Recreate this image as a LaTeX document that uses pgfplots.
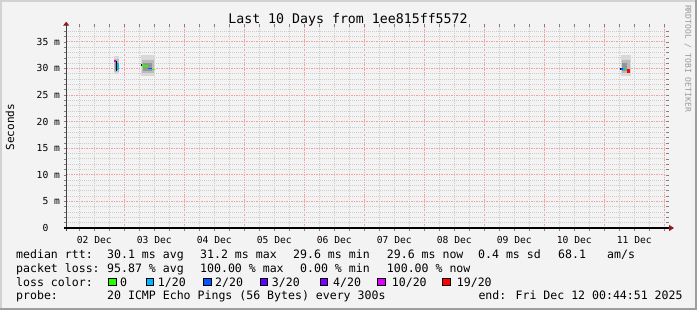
\documentclass[border=0pt]{standalone}
\usepackage{fontspec}
\setmainfont{DejaVu Sans Mono}
\usepackage{pgfplots}
\pgfplotsset{compat=1.18}
\usetikzlibrary{arrows.meta}
\definecolor{bg}{HTML}{F3F3F3}
\definecolor{edgelight}{HTML}{D2D2D2}
\definecolor{edgedark}{HTML}{9E9E9E}
\definecolor{mgrid}{HTML}{F2A2A2}
\definecolor{mingrid}{HTML}{CCCCCC}
\definecolor{arrowred}{HTML}{8E1B1B}
\definecolor{smokeA}{HTML}{D8D8D8}
\definecolor{smokeB}{HTML}{BBBBBB}
\definecolor{smokeC}{HTML}{959595}
\definecolor{lz}{HTML}{26FF00}
\definecolor{la}{HTML}{00B8FF}
\definecolor{lb}{HTML}{0059FF}
\definecolor{lc}{HTML}{5E00FF}
\definecolor{ld}{HTML}{7E00FF}
\definecolor{le}{HTML}{DD00FF}
\definecolor{lf}{HTML}{FF0000}
\newcommand\ft{\fontsize{11.6}{13}\selectfont}
\newcommand\tf{\fontsize{9.7}{11}\selectfont}
\begin{document}
\begin{tikzpicture}[x=1bp,y=1bp]
\useasboundingbox (0,0) rectangle (697,310);
\fill[bg] (0,0) rectangle (697,310);
\draw[edgelight, line width=2bp] (1,0) -- (1,309) -- (697,309);
\draw[edgedark, line width=2.5bp] (0,1.25) -- (695.75,1.25) -- (695.75,310);
\begin{axis}[
  at={(66.2bp,82bp)}, anchor=south west,
  scale only axis, width=600bp, height=201bp,
  xmin=0.75, xmax=240.75, ymin=0, ymax=37.8,
  clip=false,
  axis line style={draw=none},
  xtick={24,48,...,240},
  xticklabels={02 Dec,03 Dec,04 Dec,05 Dec,06 Dec,07 Dec,08 Dec,09 Dec,10 Dec,11 Dec},
  minor xtick={6,12,18,30,36,42,54,60,66,78,84,90,102,108,114,126,132,138,150,156,162,174,180,186,198,204,210,222,228,234},
  ytick={0,5,...,35},
  yticklabels={0\hphantom{\ m},5 m,10 m,15 m,20 m,25 m,30 m,35 m},
  minor ytick={1,2,3,4,6,7,8,9,11,12,13,14,16,17,18,19,21,22,23,24,26,27,28,29,31,32,33,34,36,37},
  xmajorgrids=true, ymajorgrids=true, xminorgrids=true, yminorgrids=true,
  major grid style={mgrid, line width=1.1bp, dash pattern=on 1.3bp off 1.2bp},
  minor grid style={mingrid, line width=0.8bp, dash pattern=on 1bp off 1bp},
  tick align=outside,
  major tick length=2.5bp, minor tick length=2.5bp,
  tick style={gray, line width=0.6bp},
  x tick label style={font=\tf, anchor=center, inner sep=0pt, yshift=-9.3bp, xshift=-30bp},
  y tick label style={font=\tf, anchor=east, inner sep=0pt, xshift=-3.5bp},
]
% smoke cluster 1
\addplot[fill=smokeA, draw=none] coordinates {(19.9,28.9)(22.0,28.9)(22.0,32.4)(19.9,32.4)} -- cycle;
\addplot[fill=smokeB, draw=none] coordinates {(19.9,29.4)(21.9,29.4)(21.9,31.8)(19.9,31.8)} -- cycle;
\addplot[fill=smokeC, draw=none] coordinates {(20.2,29.8)(21.0,29.8)(21.0,31.4)(20.2,31.4)} -- cycle;
% smoke cluster 2
\addplot[fill=smokeA, draw=none] coordinates {(30.6,28.5)(36.4,28.5)(36.4,32.5)(30.6,32.5)} -- cycle;
\addplot[fill=smokeB, draw=none] coordinates {(30.9,29.2)(36.0,29.2)(36.0,31.6)(30.9,31.6)} -- cycle;
\addplot[fill=smokeC, draw=none] coordinates {(31.5,29.6)(35.0,29.6)(35.0,31.0)(31.5,31.0)} -- cycle;
% smoke cluster 3
\addplot[fill=smokeA, draw=none] coordinates {(222.6,28.5)(226.8,28.5)(226.8,32.5)(222.6,32.5)} -- cycle;
\addplot[fill=smokeB, draw=none] coordinates {(222.9,29.2)(226.3,29.2)(226.3,31.6)(222.9,31.6)} -- cycle;
\addplot[fill=smokeC, draw=none] coordinates {(223.0,29.6)(225.0,29.6)(225.0,31.0)(223.0,31.0)} -- cycle;
% medians cluster 1
\addplot[le, line width=1.6bp] coordinates {(20.0,31.4)(20.7,31.4)};
\addplot[black, line width=1bp] coordinates {(20.7,31.4)(20.7,29.6)};
\addplot[la, line width=2.2bp] coordinates {(21.4,31.0)(21.4,29.8)};
% medians cluster 2
\addplot[black, line width=1.6bp] coordinates {(30.7,30.6)(31.1,30.6)};
\addplot[lz, line width=1.8bp] coordinates {(31.1,30.6)(32.2,30.4)(33.5,30.5)};
\addplot[lb, line width=1.8bp] coordinates {(33.5,30.0)(35.0,30.0)};
\addplot[lz, line width=1.8bp] coordinates {(35.0,29.8)(36.2,29.8)};
% medians cluster 3
\addplot[black, line width=1.6bp] coordinates {(222.3,29.9)(222.7,29.9)};
\addplot[lb, line width=1.8bp] coordinates {(222.7,29.9)(223.5,29.9)};
\addplot[la, line width=1.8bp] coordinates {(223.5,29.9)(224.1,29.9)};
\addplot[lz, line width=1.8bp] coordinates {(224.1,29.9)(224.7,29.9)};
\addplot[lf, line width=3.5bp] coordinates {(224.9,29.55)(226.3,29.55)};
% axis lines
\draw[black!75, line width=1bp, -{Triangle[length=4bp,width=6bp,color=arrowred]}]
  ([yshift=-3bp]rel axis cs:0,0) -- ([yshift=5.3bp]rel axis cs:0,1);
\draw[black, line width=1.3bp, -{Triangle[length=5bp,width=6bp,color=arrowred]}]
  ([xshift=-2.2bp]rel axis cs:0,0) -- ([xshift=7.8bp]rel axis cs:1,0);
\end{axis}
% title and labels
\node[anchor=base, inner sep=0] at (348,286.1) {\fontsize{13.3}{15}\selectfont Last 10 Days from 1ee815ff5572};
\node[rotate=90, inner sep=0] at (10,182.7) {\fontsize{11.1}{13}\selectfont Seconds};
\node[rotate=-90, inner sep=0, text=black!40] at (688,251.5) {\fontsize{8.1}{10}\selectfont RRDTOOL / TOBI OETIKER};
% statistics lines
\node[anchor=base west, inner sep=0] at (16,51.9) {\ft median rtt:};
\node[anchor=base west, inner sep=0] at (107,51.9) {\ft 30.1 ms avg};
\node[anchor=base west, inner sep=0] at (200,51.9) {\ft 31.2 ms max};
\node[anchor=base west, inner sep=0] at (293,51.9) {\ft 29.6 ms min};
\node[anchor=base west, inner sep=0] at (386.7,51.9) {\ft 29.6 ms now};
\node[anchor=base west, inner sep=0] at (478,51.9) {\ft 0.4 ms sd};
\node[anchor=base west, inner sep=0] at (558,51.9) {\ft 68.1};
\node[anchor=base west, inner sep=0] at (607,51.9) {\ft am/s};
\node[anchor=base west, inner sep=0] at (16,37.9) {\ft packet loss:};
\node[anchor=base west, inner sep=0] at (107,37.9) {\ft 95.87 \% avg};
\node[anchor=base west, inner sep=0] at (200,37.9) {\ft 100.00 \% max};
\node[anchor=base west, inner sep=0] at (300,37.9) {\ft 0.00 \% min};
\node[anchor=base west, inner sep=0] at (386.7,37.9) {\ft 100.00 \% now};
\node[anchor=base west, inner sep=0] at (16,23.9) {\ft loss color:};
\foreach \bx/\col/\lx/\txt in {108.3/lz/120/0, 146/la/157.7/1\slash20, 203.3/lb/215/2\slash20, 260/lc/271.7/3\slash20, 320/ld/333/4\slash20, 377.7/le/391.7/10\slash20, 442.7/lf/456.7/19\slash20}{
  \filldraw[fill=\col, draw=black, line width=0.8bp] (\bx,24.2) rectangle ++(7.6,7.6);
  \node[anchor=base west, inner sep=0] at (\lx,23.9) {\ft \txt};
}
\node[anchor=base west, inner sep=0] at (16,10.2) {\ft probe:};
\node[anchor=base west, inner sep=0] at (107,10.2) {\ft 20 ICMP Echo Pings (56 Bytes) every 300s};
\node[anchor=base west, inner sep=0] at (478.3,10.2) {\ft end: Fri Dec 12 00:44:51 2025};
\end{tikzpicture}
\end{document}
